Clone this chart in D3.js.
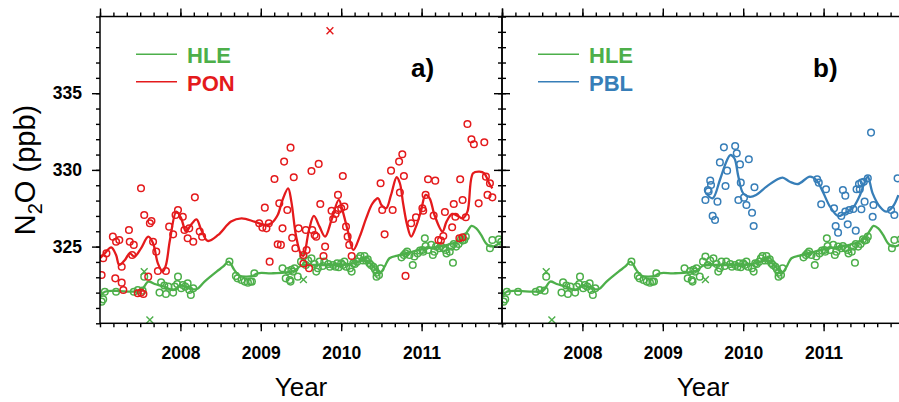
<!DOCTYPE html>
<html><head><meta charset="utf-8">
<script src="https://cdn.jsdelivr.net/npm/d3@7"></script>
<style>html,body{margin:0;padding:0;background:#fff;}svg{display:block;font-family:"Liberation Sans",Arial,sans-serif;}</style>
</head><body>
<svg id="chart" width="899" height="402"></svg>
<script>
// ---------------- data ----------------
const yearLabels = [2008, 2009, 2010, 2011];
const yTickLabels = [325, 330, 335];
const seriesNames = ["HLE", "PON", "PBL"];
const seriesColors = {HLE: "#4daf4a", PON: "#e41a1c", PBL: "#377eb8"};

// smoothed curves [decimal year, ppb]
const hleCurve = [[2007.00,321.74],[2007.06,322.06],[2007.20,322.11],[2007.39,322.06],[2007.51,322.13],[2007.60,322.72],[2007.68,322.56],[2007.80,322.39],[2007.91,322.17],[2008.01,322.46],[2008.11,322.28],[2008.20,322.22],[2008.30,322.72],[2008.45,323.37],[2008.53,323.69],[2008.60,324.02],[2008.67,323.48],[2008.73,323.11],[2008.82,323.04],[2008.90,323.09],[2008.96,323.26],[2009.13,323.26],[2009.29,323.30],[2009.42,323.43],[2009.50,323.75],[2009.65,323.80],[2009.82,323.80],[2009.98,323.80],[2010.15,323.91],[2010.27,324.09],[2010.35,323.95],[2010.42,323.59],[2010.48,323.26],[2010.54,323.69],[2010.60,324.24],[2010.73,324.45],[2010.89,324.67],[2011.06,324.89],[2011.22,325.00],[2011.39,325.22],[2011.51,325.54],[2011.58,326.08],[2011.62,326.35],[2011.68,326.19],[2011.74,325.76],[2011.80,325.22],[2011.84,325.04],[2011.91,325.04],[2011.99,325.32]];
const ponCurve = [[2007.00,324.24],[2007.06,324.56],[2007.14,324.95],[2007.20,324.45],[2007.24,323.80],[2007.31,324.13],[2007.37,324.56],[2007.43,324.35],[2007.51,324.89],[2007.60,325.65],[2007.66,325.22],[2007.72,323.91],[2007.78,323.37],[2007.82,323.80],[2007.87,325.43],[2007.95,327.28],[2008.01,326.84],[2008.07,325.98],[2008.13,326.41],[2008.20,326.78],[2008.26,326.08],[2008.34,325.37],[2008.47,325.76],[2008.63,326.63],[2008.76,326.84],[2008.92,326.63],[2009.05,326.41],[2009.13,326.52],[2009.21,327.06],[2009.27,328.04],[2009.34,328.80],[2009.38,327.93],[2009.44,325.65],[2009.50,324.50],[2009.53,324.40],[2009.60,326.10],[2009.66,327.00],[2009.73,326.30],[2009.80,325.65],[2009.88,326.74],[2009.97,328.04],[2010.02,327.28],[2010.08,326.08],[2010.15,324.78],[2010.23,325.65],[2010.31,326.84],[2010.39,327.82],[2010.46,328.15],[2010.50,327.71],[2010.56,327.50],[2010.62,328.37],[2010.69,329.52],[2010.73,329.13],[2010.77,327.82],[2010.82,326.41],[2010.87,325.65],[2010.93,326.30],[2010.99,327.28],[2011.05,328.37],[2011.10,328.15],[2011.16,327.06],[2011.26,325.98],[2011.31,326.63],[2011.38,327.13],[2011.45,327.00],[2011.51,326.84],[2011.57,327.28],[2011.64,329.78],[2011.72,329.89],[2011.78,329.78],[2011.84,329.13],[2011.88,328.80]];
const pblCurve = [[2009.54,328.47],[2009.62,328.15],[2009.71,329.34],[2009.79,330.53],[2009.84,330.97],[2009.89,330.76],[2009.94,329.56],[2010.00,328.47],[2010.08,328.25],[2010.16,328.36],[2010.29,328.91],[2010.41,329.34],[2010.49,329.50],[2010.58,329.23],[2010.68,329.08],[2010.83,329.56],[2010.91,329.34],[2010.99,328.58],[2011.08,327.60],[2011.18,326.99],[2011.26,327.17],[2011.36,327.50],[2011.44,328.21],[2011.51,329.17],[2011.55,329.56],[2011.61,328.47],[2011.70,327.60],[2011.78,327.28],[2011.86,327.60],[2011.93,328.36]];

// observations (circles)
const hleObs = [[2007.02,321.41],[2007.04,321.56],[2007.06,322.06],[2007.20,322.06],[2007.42,322.06],[2007.47,322.17],[2007.53,322.13],[2007.55,323.04],[2007.74,322.00],[2007.76,322.67],[2007.80,322.46],[2007.82,321.91],[2007.85,322.39],[2007.91,322.00],[2007.93,322.39],[2007.97,323.04],[2007.96,322.56],[2008.01,322.28],[2008.03,322.50],[2008.06,322.39],[2008.09,322.61],[2008.11,322.17],[2008.13,321.85],[2008.16,322.28],[2008.61,324.02],[2008.69,323.09],[2008.71,322.93],[2008.76,322.82],[2008.80,322.72],[2008.84,322.65],[2008.87,322.72],[2008.89,322.72],[2008.92,323.26],[2009.27,323.59],[2009.34,323.41],[2009.38,323.48],[2009.40,323.37],[2009.42,323.59],[2009.36,322.82],[2009.31,322.93],[2009.37,322.72],[2009.46,323.04],[2009.50,324.02],[2009.53,324.35],[2009.56,323.80],[2009.59,324.09],[2009.63,324.24],[2009.67,323.87],[2009.69,323.37],[2009.71,323.59],[2009.73,324.02],[2009.77,323.74],[2009.79,324.02],[2009.84,323.87],[2009.86,323.69],[2009.90,323.80],[2009.93,323.69],[2009.95,323.91],[2009.97,323.65],[2010.00,323.91],[2010.02,323.80],[2010.04,324.02],[2010.06,323.69],[2010.11,323.59],[2010.13,323.37],[2010.15,323.91],[2010.17,323.87],[2010.20,324.02],[2010.22,324.24],[2010.24,324.39],[2010.27,324.09],[2010.29,324.39],[2010.31,324.09],[2010.33,324.17],[2010.35,323.91],[2010.37,323.80],[2010.40,323.69],[2010.42,323.52],[2010.44,323.30],[2010.47,323.15],[2010.49,323.59],[2010.44,323.04],[2010.75,324.30],[2010.78,324.45],[2010.80,324.56],[2010.82,324.67],[2010.85,324.45],[2010.89,323.80],[2010.91,324.35],[2010.95,324.56],[2010.98,324.74],[2011.01,324.78],[2011.02,324.67],[2011.05,325.04],[2011.04,325.54],[2011.08,324.78],[2011.12,325.11],[2011.14,324.45],[2011.16,324.67],[2011.18,325.00],[2011.22,324.89],[2011.24,325.04],[2011.27,324.89],[2011.30,324.78],[2011.31,324.56],[2011.35,324.67],[2011.37,325.00],[2011.39,323.95],[2011.40,325.17],[2011.43,325.00],[2011.46,325.17],[2011.49,325.48],[2011.51,325.39],[2011.53,325.43],[2011.55,325.65],[2011.85,324.89],[2011.88,325.43],[2011.96,325.48],[2011.99,325.32]];
const ponObs = [[2007.02,323.15],[2007.04,324.24],[2007.08,324.56],[2007.16,325.65],[2007.20,325.32],[2007.24,325.43],[2007.19,322.93],[2007.27,322.65],[2007.29,322.17],[2007.27,323.69],[2007.36,326.08],[2007.37,325.32],[2007.42,325.11],[2007.40,324.45],[2007.51,328.80],[2007.55,327.06],[2007.62,326.52],[2007.64,326.67],[2007.66,325.32],[2007.70,324.67],[2007.60,323.04],[2007.72,323.41],[2007.47,321.96],[2007.51,322.00],[2007.54,321.91],[2007.82,323.41],[2007.86,326.30],[2007.91,325.80],[2007.94,327.06],[2007.97,327.39],[2008.03,326.95],[2008.05,326.08],[2008.09,325.54],[2008.16,325.32],[2008.11,326.19],[2008.18,328.21],[2008.24,325.98],[2008.27,325.65],[2008.98,326.52],[2009.02,326.24],[2009.07,326.19],[2009.10,326.52],[2009.05,327.54],[2009.11,324.02],[2009.17,329.41],[2009.23,327.82],[2009.21,325.15],[2009.25,325.11],[2009.27,326.19],[2009.29,330.54],[2009.33,327.39],[2009.37,331.45],[2009.41,329.52],[2009.39,325.58],[2009.43,324.89],[2009.47,326.19],[2009.56,326.08],[2009.63,329.93],[2009.72,330.39],[2009.57,324.78],[2009.53,324.45],[2009.53,323.90],[2009.60,323.59],[2009.64,326.08],[2009.67,325.76],[2009.69,325.65],[2009.74,327.78],[2009.80,325.00],[2009.78,324.39],[2009.88,327.34],[2009.90,326.80],[2009.93,327.13],[2009.96,328.37],[2009.96,327.39],[2010.00,327.50],[2010.04,327.61],[2010.02,329.60],[2010.06,326.30],[2010.08,325.65],[2010.10,325.11],[2010.13,324.39],[2010.49,329.13],[2010.51,327.39],[2010.54,325.80],[2010.62,329.95],[2010.64,327.39],[2010.72,330.54],[2010.76,331.02],[2010.78,329.60],[2010.73,328.52],[2010.80,323.09],[2010.87,326.52],[2010.93,326.91],[2011.01,327.50],[2011.02,327.34],[2011.05,328.37],[2011.08,329.39],[2011.17,329.30],[2011.15,327.02],[2011.21,325.43],[2011.24,325.39],[2011.27,325.69],[2011.29,327.26],[2011.38,326.26],[2011.40,327.78],[2011.42,326.95],[2011.47,325.54],[2011.51,325.61],[2011.51,328.04],[2011.48,329.39],[2011.55,326.91],[2011.57,332.99],[2011.62,332.00],[2011.65,331.67],[2011.78,331.80],[2011.71,327.82],[2011.82,328.37],[2011.88,328.21],[2011.85,329.13],[2011.80,329.56]];
const pblObs = [[2009.76,331.47],[2009.90,331.56],[2009.92,331.08],[2009.71,330.49],[2009.96,330.36],[2010.07,330.69],[2009.80,329.95],[2009.59,329.30],[2009.60,329.02],[2009.56,328.69],[2009.57,328.60],[2009.78,328.95],[2009.97,329.17],[2010.14,328.87],[2009.53,328.04],[2009.68,327.93],[2009.94,328.04],[2010.01,328.19],[2010.04,327.71],[2010.11,327.21],[2009.62,327.00],[2009.65,326.73],[2010.13,326.34],[2011.59,332.43],[2010.92,329.39],[2010.94,329.17],[2011.03,328.74],[2010.97,327.76],[2011.13,327.50],[2011.24,328.69],[2011.27,328.32],[2011.15,326.34],[2011.18,325.91],[2011.30,326.45],[2011.40,326.04],[2011.22,327.00],[2011.27,327.28],[2011.32,327.39],[2011.37,327.45],[2011.41,328.74],[2011.44,329.08],[2011.47,329.17],[2011.50,329.23],[2011.55,329.45],[2011.45,328.74],[2011.51,327.93],[2011.47,327.43],[2011.62,327.71],[2011.61,326.95],[2011.84,327.39],[2011.88,327.06],[2011.92,329.45]];

// flagged observations (crosses)
const hleFlag = [[2007.55,323.37],[2007.62,320.22],[2009.53,322.85]];
const ponFlag = [[2009.86,339.07]];

const panels = [
  {id: "a", label: "a)", other: "PON", curve: ponCurve, obs: ponObs, flag: ponFlag},
  {id: "b", label: "b)", other: "PBL", curve: pblCurve, obs: pblObs, flag: []}
];

// ---------------- layout ----------------
const svg = d3.select("#chart");
const plotTop = 16.5, plotBottom = 323.3, panelW = 402, left0 = 100;
const y = d3.scaleLinear().domain([320, 340]).range([plotBottom, plotTop]);
const monthTicks = d3.range(0, 61, 2).map(m => 2007 + m / 12);
const yMinor = d3.range(320, 341, 1);
const axisFont = '"Liberation Sans", Arial, sans-serif';

function styleAxis(g) {
  g.select(".domain").remove();
  g.selectAll(".tick line").attr("stroke", "#000").attr("stroke-width", 1.4);
  g.selectAll(".tick text").attr("fill", "#000").attr("font-size", 17.5)
    .attr("font-weight", "bold").attr("font-family", axisFont);
}

panels.forEach((p, i) => {
  const x0 = left0 + i * panelW, x1 = x0 + panelW;
  const x = d3.scaleLinear().domain([2007, 2012]).range([x0, x1]);
  const g = svg.append("g");

  const clipId = "clip-" + p.id;
  svg.append("clipPath").attr("id", clipId).append("rect")
    .attr("x", x0).attr("y", plotTop).attr("width", panelW).attr("height", plotBottom - plotTop);
  const data = g.append("g").attr("clip-path", `url(#${clipId})`);

  const line = d3.line().x(d => x(d[0])).y(d => y(d[1])).curve(d3.curveCatmullRom.alpha(0.5));

  function drawSeries(name, curve, obs, flag) {
    const c = seriesColors[name];
    data.append("g").selectAll("circle").data(obs).join("circle")
      .attr("cx", d => x(d[0])).attr("cy", d => y(d[1])).attr("r", 3.3)
      .attr("fill", "none").attr("stroke", c).attr("stroke-width", 1.5);
    data.append("g").selectAll("path").data(flag).join("path")
      .attr("d", d => { const cx = x(d[0]), cy = y(d[1]), s = 3.4;
        return `M${cx - s},${cy - s}L${cx + s},${cy + s}M${cx - s},${cy + s}L${cx + s},${cy - s}`; })
      .attr("stroke", c).attr("stroke-width", 1.4);
    data.append("path").datum(curve).attr("d", line)
      .attr("fill", "none").attr("stroke", c).attr("stroke-width", 2.3);
  }
  drawSeries("HLE", hleCurve, hleObs, hleFlag);
  drawSeries(p.other, p.curve, p.obs, p.flag);

  // axes: bottom
  g.append("g").attr("transform", `translate(0,${plotBottom})`)
    .call(d3.axisBottom(x).tickValues(monthTicks).tickSize(4).tickFormat("")).call(styleAxis);
  g.append("g").attr("transform", `translate(0,${plotBottom})`)
    .call(d3.axisBottom(x).tickValues(yearLabels).tickSize(8).tickPadding(15).tickFormat(d3.format("d"))).call(styleAxis);
  // top
  g.append("g").attr("transform", `translate(0,${plotTop})`)
    .call(d3.axisTop(x).tickValues(monthTicks).tickSize(4).tickFormat("")).call(styleAxis);
  g.append("g").attr("transform", `translate(0,${plotTop})`)
    .call(d3.axisTop(x).tickValues(d3.range(2007, 2013)).tickSize(8).tickFormat("")).call(styleAxis);
  // left
  g.append("g").attr("transform", `translate(${x0},0)`)
    .call(d3.axisLeft(y).tickValues(yMinor).tickSize(4).tickFormat("")).call(styleAxis);
  g.append("g").attr("transform", `translate(${x0},0)`)
    .call(d3.axisLeft(y).tickValues(yTickLabels).tickSize(8).tickPadding(10)
      .tickFormat(i === 0 ? d3.format("d") : () => "")).call(styleAxis);
  // right
  g.append("g").attr("transform", `translate(${x1},0)`)
    .call(d3.axisRight(y).tickValues(yMinor).tickSize(4).tickFormat("")).call(styleAxis);
  g.append("g").attr("transform", `translate(${x1},0)`)
    .call(d3.axisRight(y).tickValues(yTickLabels).tickSize(8).tickFormat("")).call(styleAxis);

  // frame
  g.append("rect").attr("x", x0).attr("y", plotTop).attr("width", panelW).attr("height", plotBottom - plotTop)
    .attr("fill", "none").attr("stroke", "#000").attr("stroke-width", 1.5);

  // legend
  [["HLE", 54.3, 63.3], [p.other, 81.7, 90.7]].forEach(([name, ly, ty]) => {
    g.append("line").attr("x1", x0 + 36).attr("x2", x0 + 77).attr("y1", ly).attr("y2", ly)
      .attr("stroke", seriesColors[name]).attr("stroke-width", 1.5);
    g.append("text").attr("x", x0 + 87).attr("y", ty).text(name)
      .attr("fill", seriesColors[name]).attr("font-size", 22).attr("font-weight", "bold");
  });
  // panel label
  g.append("text").attr("x", x0 + 311).attr("y", 77).text(p.label)
    .attr("font-size", 26).attr("font-weight", "bold").attr("fill", "#000");
  // x title
  g.append("text").attr("x", (x0 + x1) / 2).attr("y", 396).attr("text-anchor", "middle")
    .attr("font-size", 26).attr("fill", "#000").text("Year");
});

// y title
const yt = svg.append("text").attr("transform", "translate(35,170) rotate(-90)")
  .attr("text-anchor", "middle").attr("font-size", 29).attr("fill", "#000");
yt.append("tspan").text("N");
yt.append("tspan").text("2").attr("font-size", 20).attr("dy", 7);
yt.append("tspan").text("O (ppb)").attr("dy", -7);
</script>
</body></html>
